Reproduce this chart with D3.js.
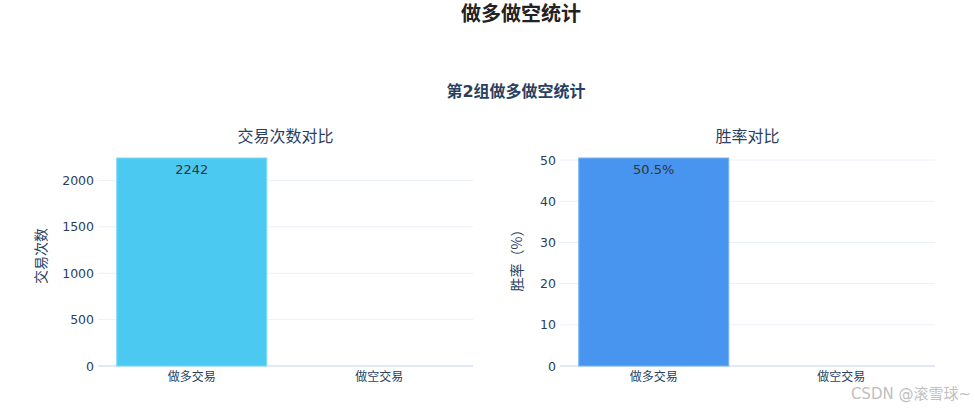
<html>
<head>
<meta charset="utf-8">
<title></title>
<script src="https://d3js.org/d3.v7.min.js"></script>
<style type="text/css">
  body{margin:0;background:#fff;}
  svg{font-family:"DejaVu Sans","Noto Sans CJK SC",sans-serif;}
</style>
</head>
<body>
<div id='graph-container'></div>
<script type="text/javascript">

var categories = ['做多交易', '做空交易']
var tradeCounts = [2242, 0]
var winRates = [50.5, 0]
var countTicks = [0, 500, 1000, 1500, 2000]
var rateTicks = [0, 10, 20, 30, 40, 50]

var width = 975
var height = 411
var svg = d3.select('#graph-container').append('svg')
  .attr('width', width)
  .attr('height', height)

svg.append('text')
  .attr('x', 521).attr('y', 21)
  .attr('text-anchor', 'middle')
  .style('font-size', '20px').style('font-weight', 'bold')
  .attr('fill', '#222')
  .text('做多做空统计')

svg.append('text')
  .attr('x', 516).attr('y', 97)
  .attr('text-anchor', 'middle')
  .style('font-size', '16px').style('font-weight', 'bold')
  .attr('fill', '#2a3f5f')
  .text('第2组做多做空统计')

function drawPanel(opt){
  var x = d3.scaleBand().domain(categories).range([opt.left, opt.right])
    .paddingInner(0.2).paddingOuter(0.1)
  var y = d3.scaleLinear().domain([0, opt.max]).range([366, 158])
  var g = svg.append('g')

  // grid
  g.selectAll('line.grid')
    .data(opt.ticks)
    .enter().append('line')
    .attr('class', 'grid')
    .attr('x1', opt.left).attr('x2', opt.right)
    .attr('y1', d => y(d)).attr('y2', d => y(d))
    .attr('stroke', d => d === 0 ? '#e3e9f4' : '#ebf0f8')
    .attr('stroke-width', d => d === 0 ? 2 : 1)

  g.selectAll('rect.bar')
    .data(opt.values)
    .enter().append('rect')
    .attr('class', 'bar')
    .attr('x', (d, i) => x(categories[i]))
    .attr('width', x.bandwidth())
    .attr('y', d => y(d))
    .attr('height', d => y(0) - y(d))
    .attr('fill', opt.color)
    .attr('stroke', opt.stroke)
    .attr('stroke-width', 1)

  g.selectAll('text.val')
    .data(opt.values)
    .enter().filter(d => d > 0).append('text')
    .attr('class', 'val')
    .attr('x', (d, i) => x(categories[i]) + x.bandwidth() / 2)
    .attr('y', d => y(d) + 16)
    .attr('text-anchor', 'middle')
    .style('font-size', '13px')
    .attr('fill', '#333')
    .text(opt.fmt)

  var yAxis = g.append('g')
    .attr('transform', `translate(${opt.left - 4},0)`)
    .call(d3.axisLeft(y).tickValues(opt.ticks).tickFormat(d3.format('d')).tickSize(0).tickPadding(0))
  yAxis.select('.domain').remove()
  yAxis.selectAll('text').style('font-size', '12.5px').attr('fill', '#2a3f5f')
    .attr('font-family', 'DejaVu Sans')

  var xAxis = g.append('g')
    .attr('transform', 'translate(0,366)')
    .call(d3.axisBottom(x).tickSize(0).tickPadding(6))
  xAxis.select('.domain').remove()
  xAxis.selectAll('text').style('font-size', '12px').attr('fill', '#2a3f5f')
    .attr('font-family', 'Noto Sans CJK SC')

  g.append('text')
    .attr('x', (opt.left + opt.right) / 2 + opt.titleShift).attr('y', 142)
    .attr('text-anchor', 'middle')
    .style('font-size', '16px')
    .attr('fill', '#2a3f5f')
    .attr('font-family', 'Noto Sans CJK SC')
    .text(opt.title)

  g.append('text')
    .attr('transform', `translate(${opt.labelX},${opt.labelY}) rotate(-90)`)
    .attr('text-anchor', 'middle')
    .style('font-size', '14px')
    .attr('fill', '#2a3f5f')
    .attr('font-family', 'Noto Sans CJK SC')
    .text(opt.yLabel)
}

drawPanel({
  left: 98, right: 473, max: 2242, values: tradeCounts, ticks: countTicks,
  color: '#4cc9f0', stroke: '#7dd8f5', fmt: d => d,
  title: '交易次数对比', titleShift: 0, yLabel: '交易次数', labelX: 46, labelY: 256
})
drawPanel({
  left: 560, right: 935, max: 50.5, values: winRates, ticks: rateTicks,
  color: '#4895ef', stroke: '#7ab2f3', fmt: d => d + '%',
  title: '胜率对比', titleShift: 0, yLabel: '胜率（%）', labelX: 522, labelY: 257
})

svg.append('text')
  .attr('x', 971).attr('y', 399)
  .attr('text-anchor', 'end')
  .style('font-size', '15px')
  .attr('fill', '#c0c0c0')
  .attr('font-family', 'DejaVu Sans, Noto Sans CJK SC')
  .text('CSDN @滚雪球~')

</script>
</body>
</html>
